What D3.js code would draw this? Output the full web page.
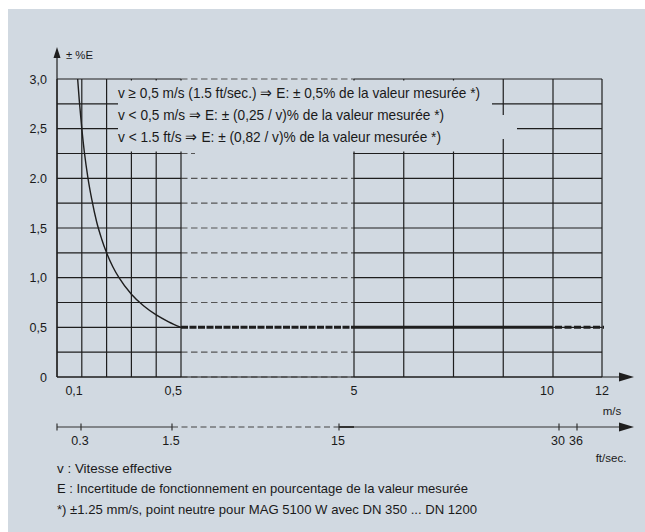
<!DOCTYPE html>
<html>
<head>
<meta charset="utf-8">
<script src="https://cdn.jsdelivr.net/npm/d3@7"></script>
<style>
  html, body { margin: 0; padding: 0; background: #ffffff; }
  svg { display: block; }
  text { font-family: "Liberation Sans", Arial, sans-serif; fill: #1a1a1a; }
</style>
</head>
<body>
<svg id="chart" width="645" height="532"></svg>
<script>
// Velocity axis (m/s): broken scale, tick values and labels
const xTicks = [0.1, 0.5, 5, 10, 12];
const xTickLabels = ["0,1", "0,5", "5", "10", "12"];
// Second velocity axis (ft/sec.)
const ftTicks = [0, 0.3, 1.5, 15, 30, 36];
const ftTickLabels = ["", "0.3", "1.5", "15", "30", "36"];
// Error axis (± %E)
const yTicks = [0, 0.5, 1.0, 1.5, 2.0, 2.5, 3.0];
const yTickLabels = ["0", "0,5", "1,0", "1,5", "2.0", "2,5", "3,0"];
// Grid: horizontal steps of 0.25 %, verticals in the low and high velocity sections
const gridY = [0, 0.25, 0.5, 0.75, 1.0, 1.25, 1.5, 1.75, 2.0, 2.25, 2.5, 2.75, 3.0];
const gridXLow = [0, 0.1, 0.2, 0.3, 0.4, 0.5];
const gridXHigh = [5, 6.25, 7.5, 8.75, 10, 12];
// Error curve below 0.5 m/s
const curveV = [0.0833, 0.09, 0.1, 0.11, 0.125, 0.14, 0.16, 0.18, 0.2, 0.225, 0.25, 0.3, 0.35, 0.4, 0.45, 0.5];
const curveE = [3.0, 2.78, 2.5, 2.27, 2.0, 1.79, 1.56, 1.39, 1.25, 1.11, 1.0, 0.833, 0.714, 0.625, 0.556, 0.5];
// Constant error above 0.5 m/s, solid up to 10 m/s
const flatE = 0.5;
const flatSolidTo = 10;
const flatEnd = 12;
// Formulas and notes
const formulaLines = [
  "v \u2265 0,5 m/s (1.5 ft/sec.) \u21D2 E: \u00B1 0,5% de la valeur mesur\u00E9e *)",
  "v < 0,5 m/s \u21D2 E: \u00B1 (0,25 / v)% de la valeur mesur\u00E9e *)",
  "v < 1.5 ft/s \u21D2 E: \u00B1 (0,82 / v)% de la valeur mesur\u00E9e *)"
];
const noteLines = [
  "v :  Vitesse effective",
  "E : Incertitude de fonctionnement en pourcentage de la valeur mesur\u00E9e",
  "*) \u00B11.25 mm/s, point neutre pour MAG 5100 W avec DN 350 ... DN 1200"
];
const yAxisTitle = "\u00B1 %E";
const xUnit = "m/s";
const ftUnit = "ft/sec.";

const BG = "#d1d9e1";
const INK = "#1e1e1e";

const svg = d3.select("#chart");

// Condensed look: squeeze a text run to a given width
function fit(sel, w) {
  sel.attr("textLength", w).attr("lengthAdjust", "spacingAndGlyphs");
  return sel;
}

// Panel background
svg.append("rect").attr("x", 8).attr("y", 9).attr("width", 637).attr("height", 523).attr("fill", BG);

// Scales (piecewise: 0–0.5 and 5–12 shown, 0.5–5 compressed)
const x = d3.scaleLinear().domain([0, 0.5, 5, 10, 12]).range([57, 181, 354, 553, 602]);
const y = d3.scaleLinear().domain([0, 3]).range([377, 79]);
const xft = d3.scaleLinear().domain([0, 0.3, 1.5, 15, 30, 36]).range([57, 81, 172, 339, 559, 577]);

const g = svg.append("g");

// Horizontal grid: solid in both sections, dashed across the break
gridY.forEach(v => {
  g.append("line").attr("x1", x(0)).attr("x2", x(0.5)).attr("y1", y(v)).attr("y2", y(v))
    .attr("stroke", INK).attr("stroke-width", 1.2);
  g.append("line").attr("x1", x(5)).attr("x2", x(12)).attr("y1", y(v)).attr("y2", y(v))
    .attr("stroke", INK).attr("stroke-width", 1.2);
  if (v !== flatE) {
    g.append("line").attr("x1", x(0.5)).attr("x2", x(5)).attr("y1", y(v)).attr("y2", y(v))
      .attr("stroke", "#555").attr("stroke-width", 1.1).attr("stroke-dasharray", "6.5,3.5");
  }
});

// Vertical grid
gridXLow.concat(gridXHigh).forEach(v => {
  g.append("line").attr("x1", x(v)).attr("x2", x(v)).attr("y1", y(0)).attr("y2", y(3))
    .attr("stroke", INK).attr("stroke-width", 1.2);
});

// Masks behind the formula block
const mask = g.append("g").attr("fill", BG);
mask.append("rect").attr("x", 118).attr("y", 80.5).attr("width", 374).attr("height", 28);
mask.append("rect").attr("x", 118).attr("y", 108).attr("width", 378).attr("height", 43.5);
mask.append("rect").attr("x", 496).attr("y", 115).attr("width", 21).attr("height", 24);
mask.append("rect").attr("x", 195).attr("y", y(2.25) - 3).attr("width", x(5) - 196).attr("height", 6);

// Formula text
const formulaWidths = [362, 326, 323];
formulaLines.forEach((t, i) => {
  fit(g.append("text").attr("x", 118).attr("y", 98 + i * 22).attr("font-size", 14.5).text(t), formulaWidths[i]);
});

// Error curve
const line = d3.line().x(d => x(d[0])).y(d => y(d[1])).curve(d3.curveMonotoneX);
g.append("path").datum(curveV.map((v, i) => [v, curveE[i]]))
  .attr("d", line).attr("fill", "none").attr("stroke", INK).attr("stroke-width", 1.4);

// Constant 0.5 % limit
g.append("line").attr("x1", x(0.5)).attr("x2", x(5)).attr("y1", y(flatE)).attr("y2", y(flatE))
  .attr("stroke", INK).attr("stroke-width", 3).attr("stroke-dasharray", "7,1.5");
g.append("line").attr("x1", x(5)).attr("x2", x(flatSolidTo)).attr("y1", y(flatE)).attr("y2", y(flatE))
  .attr("stroke", INK).attr("stroke-width", 3);
g.append("line").attr("x1", x(flatSolidTo) + 2).attr("x2", x(flatEnd) + 2).attr("y1", y(flatE)).attr("y2", y(flatE))
  .attr("stroke", INK).attr("stroke-width", 3).attr("stroke-dasharray", "7,2.5");

// Y axis with arrow
g.append("line").attr("x1", x(0)).attr("x2", x(0)).attr("y1", y(0)).attr("y2", 56)
  .attr("stroke", INK).attr("stroke-width", 1.2);
g.append("path").attr("d", `M${x(0)},47 L${x(0) - 3.5},58 L${x(0) + 3.5},58 Z`).attr("fill", INK);
fit(g.append("text").attr("x", 66).attr("y", 59).attr("font-size", 11.5).text(yAxisTitle), 27);

yTicks.forEach((v, i) => {
  g.append("text").attr("x", 47).attr("y", y(v)).attr("dy", "0.36em")
    .attr("text-anchor", "end").attr("font-size", 12.5).text(yTickLabels[i]);
});

// X axis (m/s) with arrow
g.append("line").attr("x1", x(0)).attr("x2", 622).attr("y1", y(0)).attr("y2", y(0))
  .attr("stroke", INK).attr("stroke-width", 1.2);
g.append("path").attr("d", `M634,${y(0)} L619,${y(0) - 4.5} L619,${y(0) + 4.5} Z`).attr("fill", INK);
xTicks.forEach((v, i) => {
  const anchorEnd = v < 1 || v === 10;
  g.append("text").attr("x", anchorEnd ? x(v) + 1 : x(v)).attr("y", 395)
    .attr("text-anchor", anchorEnd ? "end" : "middle").attr("font-size", 12.5).text(xTickLabels[i]);
});
g.append("text").attr("x", 612).attr("y", 415).attr("text-anchor", "middle").attr("font-size", 11.5).text(xUnit);

// Second axis (ft/sec.)
const fy = 427;
g.append("line").attr("x1", xft(0)).attr("x2", xft(1.5)).attr("y1", fy).attr("y2", fy)
  .attr("stroke", "#333").attr("stroke-width", 1.2);
g.append("line").attr("x1", xft(1.5)).attr("x2", xft(15)).attr("y1", fy).attr("y2", fy)
  .attr("stroke", "#444").attr("stroke-width", 1.2).attr("stroke-dasharray", "6,3.5");
g.append("line").attr("x1", xft(15)).attr("x2", 622).attr("y1", fy).attr("y2", fy)
  .attr("stroke", "#333").attr("stroke-width", 1.2);
g.append("line").attr("x1", xft(15)).attr("x2", x(5)).attr("y1", fy).attr("y2", fy)
  .attr("stroke", "#333").attr("stroke-width", 2);
g.append("path").attr("d", `M634,${fy} L619,${fy - 4.5} L619,${fy + 4.5} Z`).attr("fill", INK);
ftTicks.forEach((v, i) => {
  g.append("line").attr("x1", xft(v)).attr("x2", xft(v)).attr("y1", fy - 3.5).attr("y2", fy + 3.5)
    .attr("stroke", "#333").attr("stroke-width", 1.2);
  if (ftTickLabels[i]) {
    g.append("text").attr("x", xft(v) - 1).attr("y", 445).attr("text-anchor", "middle")
      .attr("font-size", 12.5).text(ftTickLabels[i]);
  }
});
g.append("text").attr("x", 611).attr("y", 462).attr("text-anchor", "middle").attr("font-size", 11.5).text(ftUnit);

// Notes
const noteWidths = [115, 411, 420];
noteLines.forEach((t, i) => {
  fit(g.append("text").attr("x", 57).attr("y", 472.5 + i * 20.5).attr("font-size", 13.5).text(t), noteWidths[i]);
});
</script>
</body>
</html>
